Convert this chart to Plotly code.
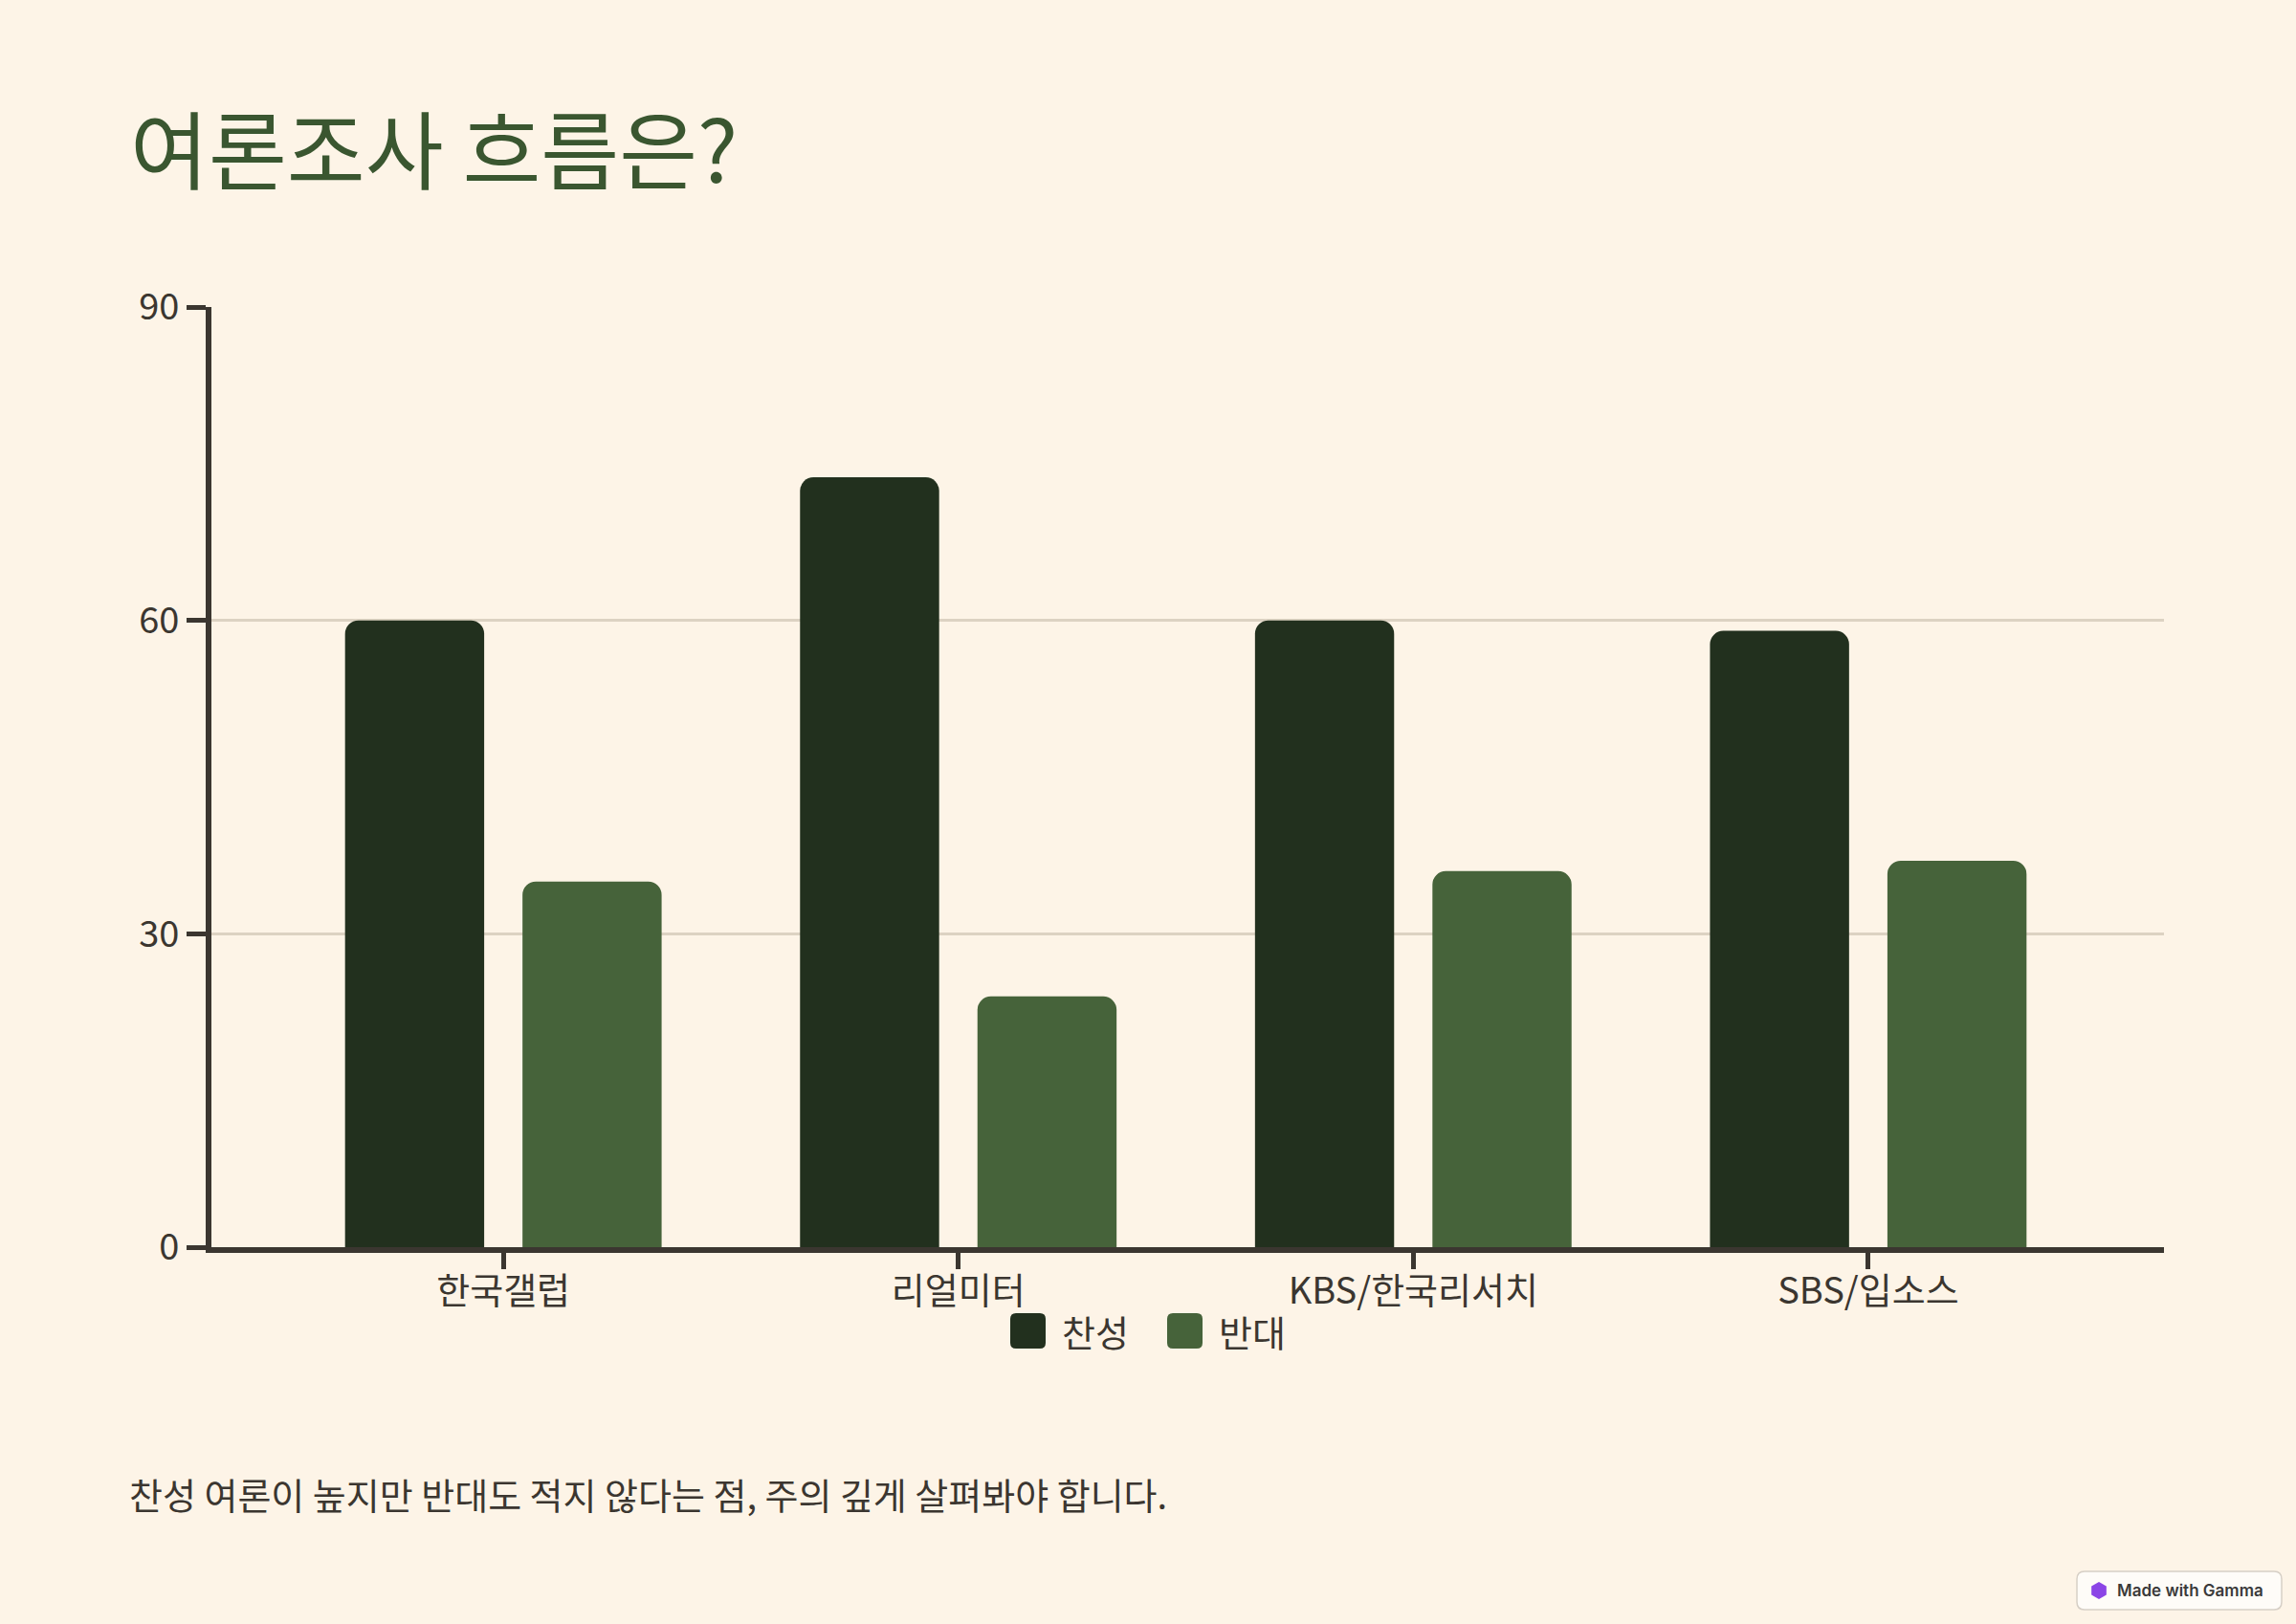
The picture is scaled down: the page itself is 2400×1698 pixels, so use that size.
import plotly.graph_objects as go

# 조사기관별 찬반 여론 (%)
pollsters = ["한국갤럽", "리얼미터", "KBS/한국리서치", "SBS/입소스"]
approve = [60, 73.7, 60, 59]
oppose = [35, 24, 36, 37]
series_names = ["찬성", "반대"]
y_ticks = [0, 30, 60, 90]

title_text = "여론조사 흐름은?"
note_text = "찬성 여론이 높지만 반대도 적지 않다는 점, 주의 깊게 살펴봐야 합니다."
badge_text = "Made with Gamma"

W, H = 2400, 1698
# plot area in page pixels
L, R, T, B = 221, 2262, 321, 1304

BG = "#fdf4e7"
DARK = "#22301e"
GREEN = "#46633a"
INK = "#3b3630"
GRID = "#dcd2c2"
FONT = "Noto Sans CJK KR"
TXT = 38


def px(x):
    return (x - L) / (R - L)


def py(y):
    return (B - y) / (B - T)


def rounded_rect(x0, y0, x1, y1, r):
    # page pixels -> paper path with rounded corners
    pts = [
        f"M{px(x0 + r)},{py(y0)}",
        f"L{px(x1 - r)},{py(y0)}",
        f"Q{px(x1)},{py(y0)} {px(x1)},{py(y0 + r)}",
        f"L{px(x1)},{py(y1 - r)}",
        f"Q{px(x1)},{py(y1)} {px(x1 - r)},{py(y1)}",
        f"L{px(x0 + r)},{py(y1)}",
        f"Q{px(x0)},{py(y1)} {px(x0)},{py(y1 - r)}",
        f"L{px(x0)},{py(y0 + r)}",
        f"Q{px(x0)},{py(y0)} {px(x0 + r)},{py(y0)}",
        "Z",
    ]
    return " ".join(pts)


fig = go.Figure()
fig.add_trace(go.Bar(x=pollsters, y=approve, name=series_names[0],
                     marker=dict(color=DARK, line=dict(width=0)), showlegend=False))
fig.add_trace(go.Bar(x=pollsters, y=oppose, name=series_names[1],
                     marker=dict(color=GREEN, line=dict(width=0)), showlegend=False))

shapes = []
annotations = []

# 범례 (수동)
legend_items = [(1056, series_names[0], DARK), (1220, series_names[1], GREEN)]
for x0, label, color in legend_items:
    shapes.append(dict(type="path", xref="paper", yref="paper",
                       path=rounded_rect(x0, 1373, x0 + 37, 1410, 6),
                       fillcolor=color, line=dict(width=0)))
    annotations.append(dict(text=label, xref="paper", yref="paper",
                            x=px(x0 + 52), y=py(1391), xanchor="left", yanchor="middle",
                            showarrow=False, font=dict(family=FONT, size=TXT, color=INK)))

# 하단 설명
annotations.append(dict(text=note_text, xref="paper", yref="paper",
                        x=px(133), y=py(1561), xanchor="left", yanchor="middle",
                        showarrow=False, font=dict(family=FONT, size=TXT, color=INK)))

# Made with Gamma 배지
shapes.append(dict(type="path", xref="paper", yref="paper",
                   path=rounded_rect(2171, 1643, 2385, 1683, 8),
                   fillcolor="#fefcf8", line=dict(color="#d6cfc6", width=1.5)))
hx, hy, hr = 2194, 1663, 9
hexagon = [(hx + hr * c, hy + hr * s) for c, s in
           [(0, -1), (0.87, -0.5), (0.87, 0.5), (0, 1), (-0.87, 0.5), (-0.87, -0.5)]]
shapes.append(dict(type="path", xref="paper", yref="paper",
                   path="M" + " L".join(f"{px(a)},{py(b)}" for a, b in hexagon) + " Z",
                   fillcolor="#8b45e6", line=dict(width=0)))
annotations.append(dict(text=badge_text, xref="paper", yref="paper",
                        x=px(2211), y=py(1663), xanchor="left", yanchor="middle",
                        showarrow=False,
                        font=dict(family="Inter", size=17, color="#3a3a3a", weight=600)))

fig.update_layout(
    width=W, height=H,
    margin=dict(l=L, r=W - R, t=T, b=H - B),
    paper_bgcolor=BG, plot_bgcolor=BG,
    font=dict(family=FONT, color=INK),
    title=dict(text=title_text, xref="container", yref="container",
               x=136 / W, y=1 - 160 / H, xanchor="left", yanchor="middle",
               font=dict(family=FONT, size=89, color="#3a5630")),
    barmode="group", bargap=0.22, bargroupgap=0.216, barcornerradius=14,
    shapes=shapes, annotations=annotations,
    showlegend=False,
)

fig.update_xaxes(range=[-0.6416, 3.65], showline=True, linecolor=INK, linewidth=6,
                 ticks="outside", ticklen=17, tickwidth=5, tickcolor=INK,
                 tickfont=dict(family=FONT, size=TXT, color=INK), ticklabelstandoff=-10,
                 showgrid=False, zeroline=False)
fig.update_yaxes(range=[0, 90], tickvals=y_ticks, showline=True, linecolor=INK, linewidth=6,
                 ticks="outside", ticklen=20, tickwidth=5, tickcolor=INK,
                 tickfont=dict(family=FONT, size=TXT, color=INK),
                 showgrid=True, gridcolor=GRID, gridwidth=3, zeroline=False)

fig.write_html("out.html", config={"displayModeBar": False},
               post_script="document.body.style.margin='0';")
